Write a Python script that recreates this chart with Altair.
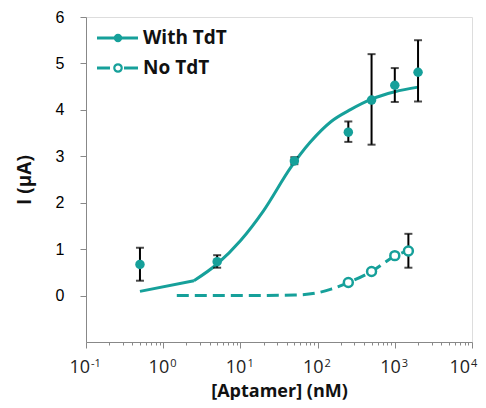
import altair as alt
import pandas as pd

TEAL = "#16a09a"

# With TdT measured points
with_x = [0.5, 5, 50, 250, 500, 1000, 2000]
with_y = [0.67, 0.73, 2.90, 3.52, 4.21, 4.53, 4.81]
with_lo = [0.32, 0.60, 2.83, 3.31, 3.25, 4.17, 4.18]
with_hi = [1.03, 0.87, 2.98, 3.75, 5.20, 4.90, 5.50]

# No TdT measured points
no_x = [250, 500, 1000, 1500]
no_y = [0.28, 0.52, 0.86, 0.96]
no_err_x = [1500]
no_err_lo = [0.60]
no_err_hi = [1.33]

# Fitted curves
fit_with_x = [0.5, 2.5, 5, 10, 20, 45, 80, 150, 270, 500, 1000, 2000]
fit_with_y = [0.09, 0.32, 0.68, 1.18, 1.83, 2.76, 3.30, 3.75, 4.01, 4.23, 4.39, 4.49]
fit_no_x = [1.5, 10, 50, 100, 150, 250, 500, 1000, 1500]
fit_no_y = [0.0, 0.0, 0.01, 0.06, 0.14, 0.28, 0.52, 0.85, 0.97]

# Axis ticks / labels
major_ticks = [0.1, 1, 10, 100, 1000, 10000]
major_exp = ["-1", "0", "1", "2", "3", "4"]
minor_ticks = [d * m for d in [0.1, 1, 10, 100, 1000] for m in range(2, 10)]
y_ticks = [0, 1, 2, 3, 4, 5, 6]

FONT = "Open Sans"
PLOT_W, PLOT_H = 386, 325

is_major = "abs(log(datum.value)/LN10 - round(log(datum.value)/LN10)) < 0.001"

xscale = alt.Scale(type="log", domain=[0.1, 10000], nice=False)
yscale = alt.Scale(domain=[-1, 6], nice=False, zero=False)

xaxis = alt.Axis(
    values=sorted(major_ticks + minor_ticks),
    labels=False,
    tickSize={"condition": {"test": is_major, "value": 6}, "value": 3},
    title="[Aptamer] (nM)",
    titleFontSize=18, titleFontWeight="bold", titleFont=FONT, titleColor="#111",
    titleBaseline="alphabetic", titleY=54,
    grid=False,
)
yaxis = alt.Axis(
    values=y_ticks,
    tickSize=6,
    title="I (µA)",
    titleFontSize=19, titleFontWeight="bold", titleFont=FONT, titleColor="#111",
    titleBaseline="middle", titleX=-62,
    grid=False,
    labelFontSize=16,
    labelPadding=16,
)

def X(field):
    return alt.X(f"{field}:Q", scale=xscale, axis=xaxis)

def Y(field):
    return alt.Y(f"{field}:Q", scale=yscale, axis=yaxis)

df_fit_with = pd.DataFrame({"x": fit_with_x, "y": fit_with_y})
df_fit_no = pd.DataFrame({"x": fit_no_x, "y": fit_no_y})
df_with = pd.DataFrame({"x": with_x, "y": with_y, "lo": with_lo, "hi": with_hi})
df_no = pd.DataFrame({"x": no_x, "y": no_y})
df_err = pd.DataFrame({
    "x": with_x + no_err_x,
    "lo": with_lo + no_err_lo,
    "hi": with_hi + no_err_hi,
})
df_lab = pd.DataFrame({"x": major_ticks, "exp": major_exp})

fit_with_a = alt.Chart(df_fit_with.iloc[:2]).mark_line(
    color=TEAL, strokeWidth=3
).encode(x=X("x"), y=Y("y"))
fit_with_b = alt.Chart(df_fit_with.iloc[1:]).mark_line(
    color=TEAL, strokeWidth=3, interpolate="monotone"
).encode(x=X("x"), y=Y("y"))

fit_no = alt.Chart(df_fit_no).mark_line(
    color=TEAL, strokeWidth=3, strokeDash=[12, 6], interpolate="monotone"
).encode(x=X("x"), y=Y("y"))

err_rule = alt.Chart(df_err).mark_rule(color="black", strokeWidth=2).encode(
    x=X("x"), y=Y("lo"), y2="hi:Q"
)
cap_lo = alt.Chart(df_err).mark_tick(
    color="black", orient="horizontal", size=8, thickness=2
).encode(x=X("x"), y=Y("lo"))
cap_hi = alt.Chart(df_err).mark_tick(
    color="black", orient="horizontal", size=8, thickness=2
).encode(x=X("x"), y=Y("hi"))

pts_with = alt.Chart(df_with).mark_point(
    filled=True, color=TEAL, size=90, opacity=1, shape="circle"
).encode(x=X("x"), y=Y("y"))

pts_no = alt.Chart(df_no).mark_point(
    filled=True, fill="white", stroke=TEAL, strokeWidth=2.5, size=80, opacity=1,
    shape="circle"
).encode(x=X("x"), y=Y("y"))

# x tick labels as 10 with raised exponent
def tick_labels(df, dx_base):
    base = alt.Chart(df).mark_text(
        text="10", align="right", baseline="alphabetic", fontSize=18,
        font=FONT, color="#222", dx=dx_base
    ).encode(x=X("x"), y=alt.value(PLOT_H + 31))
    exp = alt.Chart(df).mark_text(
        align="left", baseline="alphabetic", fontSize=11,
        font=FONT, color="#222", dx=dx_base + 1
    ).encode(x=X("x"), y=alt.value(PLOT_H + 25), text="exp:N")
    return [base, exp]

lab_layers = (
    tick_labels(df_lab.iloc[:1], 4)
    + tick_labels(df_lab.iloc[1:5], 6)
    + tick_labels(df_lab.iloc[5:], -2)
)

# Legend (decoration)
leg_df = pd.DataFrame({"a": [0]})
leg_line1 = alt.Chart(leg_df).mark_rule(color=TEAL, strokeWidth=3).encode(
    x=alt.value(11), x2=alt.value(52), y=alt.value(21)
)
leg_pt1 = alt.Chart(leg_df).mark_point(
    filled=True, color=TEAL, size=70, opacity=1
).encode(x=alt.value(32), y=alt.value(21))
leg_txt1 = alt.Chart(leg_df).mark_text(
    text="With TdT", align="left", baseline="middle", fontSize=19,
    fontWeight="bold", font=FONT, color="#111"
).encode(x=alt.value(57), y=alt.value(21))

leg_line2a = alt.Chart(leg_df).mark_rule(color=TEAL, strokeWidth=3).encode(
    x=alt.value(11), x2=alt.value(24), y=alt.value(51)
)
leg_line2b = alt.Chart(leg_df).mark_rule(color=TEAL, strokeWidth=3).encode(
    x=alt.value(38), x2=alt.value(52), y=alt.value(51)
)
leg_pt2 = alt.Chart(leg_df).mark_point(
    filled=True, fill="white", stroke=TEAL, strokeWidth=2.2, size=55, opacity=1
).encode(x=alt.value(32), y=alt.value(51))
leg_txt2 = alt.Chart(leg_df).mark_text(
    text="No TdT", align="left", baseline="middle", fontSize=19,
    fontWeight="bold", font=FONT, color="#111"
).encode(x=alt.value(57), y=alt.value(51))

chart = alt.layer(
    fit_with_a, fit_with_b, fit_no, err_rule, cap_lo, cap_hi, pts_with, pts_no,
    *lab_layers,
    leg_line1, leg_pt1, leg_txt1, leg_line2a, leg_line2b, leg_pt2, leg_txt2,
).properties(
    width=PLOT_W, height=PLOT_H,
    autosize=alt.AutoSizeParams(type="none"),
    padding={"left": 78, "top": 9, "right": 6, "bottom": 58},
).configure_view(
    stroke="black", strokeWidth=1.5
).configure_axis(
    domainColor="black", domainWidth=2, tickColor="black", tickWidth=2,
    labelFont=FONT, titleFont=FONT, labelColor="#222", titleColor="#111",
).configure(background="white")

chart.save("out.html", embed_options={"renderer": "svg", "actions": False})
